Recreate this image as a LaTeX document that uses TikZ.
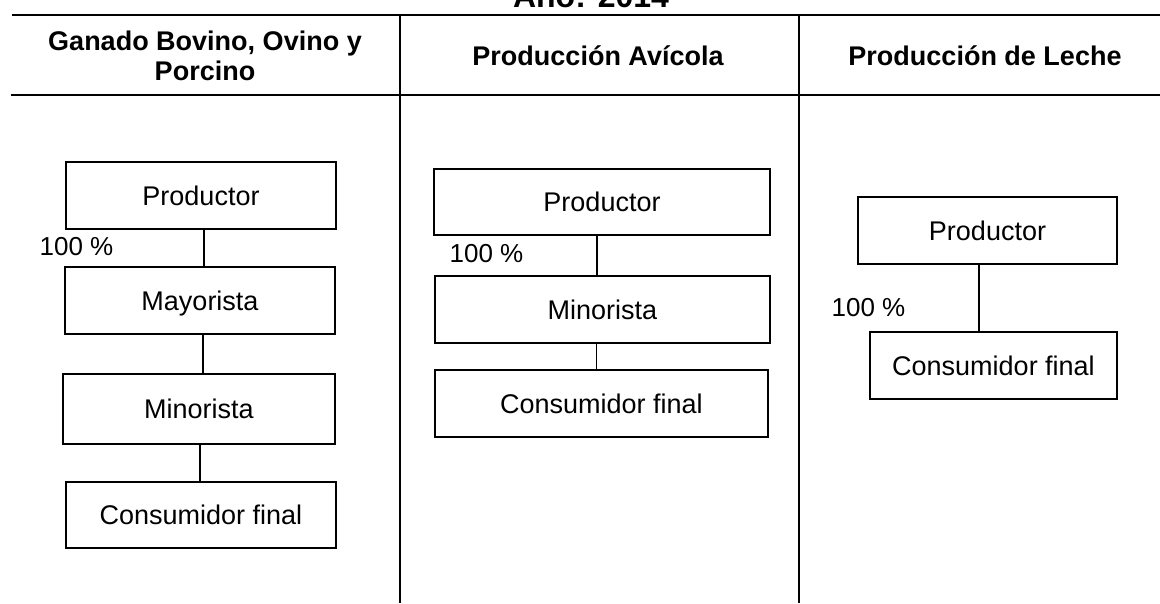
\documentclass[tikz,border=0pt]{standalone}
\usepackage{fontspec}
\setmainfont{Liberation Sans}
\begin{document}
\begin{tikzpicture}[x=1pt,y=-1pt,
  tline/.style={line width=1.6pt},
  cbox/.style={draw, line width=1.2pt, inner sep=0pt, text height=19pt, text depth=0pt, font=\fontsize{27}{32}\selectfont},
  hdr/.style={anchor=base, inner sep=0pt, font=\bfseries\fontsize{27}{30}\selectfont},
  ttl/.style={anchor=base, inner sep=0pt, font=\bfseries\fontsize{32}{36}\selectfont},
  pct/.style={inner sep=0pt, text height=18.6pt, text depth=0pt, font=\fontsize{26}{30}\selectfont},
  conn/.style={line width=1.1pt}]
\clip (0,0) rectangle (1160,603);
\useasboundingbox (0,0) rectangle (1160,603);
\fill[white] (0,0) rectangle (1160,603);

% title (cut off at top)
\node[ttl] (title) at (591,7) {Año: 2014};

% table lines
\draw[tline] (12,15) -- (1160,15);
\draw[tline] (11,95) -- (1160,95);
\draw[tline] (400,15) -- (400,603);
\draw[tline] (799,15) -- (799,603);

% headers
\node[hdr] (h1a) at (205,50) {Ganado Bovino, Ovino y};
\node[hdr] (h1b) at (205,80) {Porcino};
\node[hdr] (h2) at (598,65) {Producción Avícola};
\node[hdr] (h3) at (985,65) {Producción de Leche};

% column 1
\node[cbox, minimum width=270pt, minimum height=67pt] (P1) at (201,195.5) {Productor};
\node[cbox, minimum width=270pt, minimum height=67pt] (M1) at (200,300.5) {Mayorista};
\node[cbox, minimum width=272pt, minimum height=70pt] (N1) at (199,409) {Minorista};
\node[cbox, minimum width=270pt, minimum height=66pt] (C1) at (201,515) {Consumidor final};
\node[pct] (pc1) at (76.5,246) {100 \%};
\draw[conn] ([xshift=3pt]P1.south) -- ([xshift=3pt]P1.south |- M1.north);
\draw[conn] ([xshift=3pt]M1.south) -- ([xshift=3pt]M1.south |- N1.north);
\draw[conn] ([xshift=1pt]N1.south) -- ([xshift=1pt]N1.south |- C1.north);

% column 2
\node[cbox, minimum width=336pt, minimum height=66pt] (P2) at (602,202) {Productor};
\node[cbox, minimum width=335pt, minimum height=67pt] (N2) at (602.5,309.5) {Minorista};
\node[cbox, minimum width=333pt, minimum height=67pt] (C2) at (601.5,403.5) {Consumidor final};
\node[pct] (pc2) at (486.5,253) {100 \%};
\draw[conn] ([xshift=-5pt]P2.south) -- ([xshift=-5pt]P2.south |- N2.north);
\draw[conn] ([xshift=-6pt]N2.south) -- ([xshift=-6pt]N2.south |- C2.north);

% column 3
\node[cbox, minimum width=259pt, minimum height=67pt] (P3) at (987.5,230.5) {Productor};
\node[cbox, minimum width=247pt, minimum height=67pt] (C3) at (993.5,365.5) {Consumidor final};
\node[pct] (pc3) at (868.5,307) {100 \%};
\draw[conn] ([xshift=-8.5pt]P3.south) -- ([xshift=-8.5pt]P3.south |- C3.north);
\end{tikzpicture}
\end{document}
